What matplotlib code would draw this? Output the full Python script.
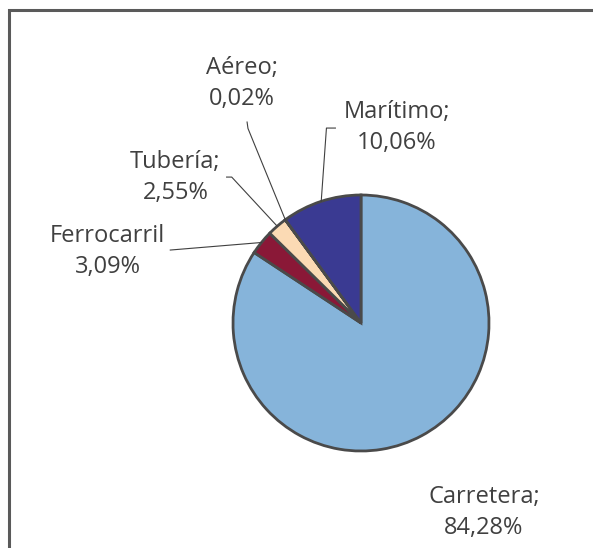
import numpy as np
import matplotlib.pyplot as plt
from matplotlib.patches import Rectangle

plt.rcParams['font.family'] = ['Open Sans', 'DejaVu Sans']

# transport modes, clockwise from 12 o'clock
modes = ['Carretera', 'Ferrocarril', 'Tubería', 'Aéreo', 'Marítimo']
shares = [84.28, 3.09, 2.55, 0.02, 10.06]
labels = ['Carretera;\n84,28%', 'Ferrocarril\n3,09%', 'Tubería;\n2,55%',
          'Aéreo;\n0,02%', 'Marítimo;\n10,06%']
colors = ['#86B4DA', '#8A1837', '#FBDAB4', '#6F8FC4', '#3A3A92']

# label centres and leader-line bends (pie radius = 1)
label_pos = {
    'Carretera': (0.96, -1.48),
    'Ferrocarril': (-1.98, 0.56),
    'Tubería': (-1.45, 1.14),
    'Aéreo': (-0.93, 1.87),
    'Marítimo': (0.28, 1.53),
}
leader_start = {
    'Ferrocarril': [(-1.49, 0.57)],
    'Tubería': [(-1.05, 1.14), (-1.01, 1.14)],
    'Aéreo': [(-0.89, 1.57), (-0.883, 1.52)],
    'Marítimo': [(-0.20, 1.523), (-0.27, 1.523)],
}

fig = plt.figure(figsize=(5.93, 5.48), dpi=100)
fig.patches.append(Rectangle((8.5 / 593, -0.1), 1.2, 1.1 - 10 / 548,
                             transform=fig.transFigure, fill=False,
                             edgecolor='#5a5a5a', linewidth=2.2))

ax = fig.add_axes([233 / 593, 97 / 548, 256 / 593, 256 / 548])
wedges, _ = ax.pie(shares, colors=colors, startangle=90, counterclock=False,
                   radius=1,
                   wedgeprops=dict(edgecolor='#4a4a4a', linewidth=2))
ax.set_xlim(-1, 1)
ax.set_ylim(-1, 1)
ax.set_aspect('equal')
ax.axis('off')

for w, name, lab in zip(wedges, modes, labels):
    mid = np.deg2rad((w.theta1 + w.theta2) / 2)
    anchor = (np.cos(mid), np.sin(mid))
    if name in leader_start:
        pts = leader_start[name] + [anchor]
        xs, ys = zip(*pts)
        ax.plot(xs, ys, color='#404040', lw=0.8, clip_on=False)
    tx, ty = label_pos[name]
    ax.text(tx, ty, lab, ha='center', va='center', fontsize=17,
            color='#404040', linespacing=1.38, clip_on=False)

plt.savefig('out.png', dpi=100)
